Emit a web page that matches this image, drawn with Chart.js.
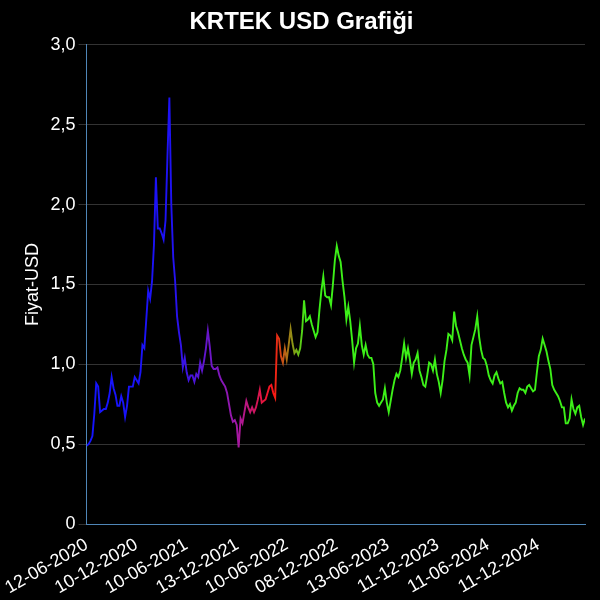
<!DOCTYPE html>
<html>
<head>
<meta charset="utf-8">
<title>KRTEK USD Grafiği</title>
<script src="https://cdn.jsdelivr.net/npm/chart.js@4.4.1/dist/chart.umd.min.js"></script>
<style>
    html, body { margin: 0; padding: 0; background: #000; }
    #kutu { width: 600px; height: 600px; }
</style>
</head>
<body>
<div id="kutu"><canvas id="grafikFiyat"></canvas></div>
<script>
// veriler: 12-06-2020 itibariyle haftalik kapanislar (USD)
const baslangic = '2020-06-12';
const adimGun = 7;
const fiyatlar = [
    0.49, 0.50, 0.52, 0.55, 0.69, 0.88, 0.86, 0.70,
    0.71, 0.72, 0.72, 0.76, 0.82, 0.92, 0.85, 0.81,
    0.74, 0.74, 0.80, 0.76, 0.67, 0.74, 0.86, 0.86,
    0.86, 0.92, 0.90, 0.88, 0.95, 1.12, 1.10, 1.28,
    1.46, 1.41, 1.52, 1.75, 2.17, 1.85, 1.85, 1.82,
    1.78, 1.90, 2.30, 2.67, 2.00, 1.67, 1.52, 1.30,
    1.20, 1.12, 0.98, 1.04, 0.95, 0.90, 0.93, 0.93,
    0.89, 0.94, 0.92, 1.01, 0.96, 1.02, 1.10, 1.21,
    1.11, 0.99, 0.97, 0.97, 0.98, 0.93, 0.90, 0.88,
    0.86, 0.82, 0.75, 0.68, 0.64, 0.65, 0.62, 0.48,
    0.66, 0.63, 0.70, 0.77, 0.73, 0.70, 0.73, 0.70,
    0.73, 0.78, 0.84, 0.76, 0.77, 0.78, 0.82, 0.86,
    0.87, 0.82, 0.79, 1.18, 1.16, 1.05, 1.01, 1.10,
    1.03, 1.12, 1.22, 1.13, 1.07, 1.09, 1.06, 1.10,
    1.21, 1.40, 1.27, 1.28, 1.30, 1.25, 1.21, 1.17,
    1.20, 1.34, 1.46, 1.55, 1.43, 1.42, 1.42, 1.37,
    1.50, 1.65, 1.74, 1.68, 1.64, 1.52, 1.42, 1.28,
    1.36, 1.27, 1.15, 1.01, 1.10, 1.13, 1.24, 1.12,
    1.06, 1.12, 1.06, 1.04, 1.04, 1.00, 0.82, 0.76,
    0.74, 0.76, 0.78, 0.85, 0.76, 0.70, 0.77, 0.84,
    0.90, 0.94, 0.92, 0.96, 1.04, 1.13, 1.04, 1.10,
    1.03, 0.94, 1.01, 1.03, 1.07, 0.96, 0.92, 0.87,
    0.86, 0.93, 1.01, 1.00, 0.96, 1.03, 0.94, 0.89,
    0.82, 0.90, 1.02, 1.09, 1.19, 1.18, 1.15, 1.33,
    1.24, 1.20, 1.15, 1.10, 1.06, 1.03, 1.01, 0.93,
    1.12, 1.17, 1.22, 1.30, 1.17, 1.09, 1.04, 1.03,
    0.99, 0.93, 0.90, 0.88, 0.93, 0.95, 0.91, 0.88,
    0.89, 0.82, 0.76, 0.73, 0.75, 0.71, 0.74, 0.76,
    0.82, 0.85, 0.84, 0.84, 0.82, 0.86, 0.87, 0.85,
    0.83, 0.84, 0.95, 1.05, 1.09, 1.16, 1.12, 1.08,
    1.02, 0.97, 0.87, 0.84, 0.82, 0.80, 0.77, 0.73,
    0.73, 0.63, 0.63, 0.66, 0.78, 0.72, 0.69, 0.73,
    0.74, 0.67, 0.62, 0.66
];
const eksenTarihleri = [
    '12-06-2020', '10-12-2020', '10-06-2021', '13-12-2021', '10-06-2022',
    '08-12-2022', '13-06-2023', '11-12-2023', '11-06-2024', '11-12-2024'
];

// tarih -> baslangictan itibaren gun
function gunFarki(tarih) {
    const p = tarih.split('-');
    const t = Date.UTC(+p[2], +p[1] - 1, +p[0]);
    const b = Date.parse(baslangic + 'T00:00:00Z');
    return Math.round((t - b) / 86400000);
}

const noktalar = fiyatlar.map(function (v, i) {
    return { x: i * adimGun, y: v };
});
const tikGunleri = eksenTarihleri.map(gunFarki);

let renkGecisi = null;
function cizgiRengi(context) {
    const chart = context.chart;
    const alan = chart.chartArea;
    if (!alan) return '#0000ff';
    if (!renkGecisi) {
        renkGecisi = chart.ctx.createLinearGradient(alan.left, 0, alan.right, 0);
        renkGecisi.addColorStop(0, '#1414ff');
        renkGecisi.addColorStop(0.17, '#1e12f4');
        renkGecisi.addColorStop(0.30, '#a018a8');
        renkGecisi.addColorStop(0.375, '#ff1414');
        renkGecisi.addColorStop(0.44, '#3cf018');
        renkGecisi.addColorStop(1, '#3cf018');
    }
    return renkGecisi;
}

Chart.defaults.font.family = '"Liberation Sans", Arial, sans-serif';
Chart.defaults.color = '#ffffff';

const ctx = document.getElementById('grafikFiyat');

new Chart(ctx, {
    type: 'line',
    data: {
        datasets: [{
            label: 'KRTEK',
            data: noktalar,
            borderColor: cizgiRengi,
            borderWidth: 1.9,
            pointRadius: 0,
            tension: 0,
            fill: false
        }]
    },
    options: {
        responsive: true,
        maintainAspectRatio: false,
        animation: false,
        locale: 'tr-TR',
        layout: {
            padding: { left: 18, right: 15 }
        },
        plugins: {
            legend: { display: false },
            tooltip: { enabled: false },
            title: {
                display: true,
                text: 'KRTEK USD Grafiği',
                color: '#ffffff',
                font: { size: 24, weight: 'bold' },
                padding: { top: 8, bottom: 8 }
            }
        },
        scales: {
            x: {
                type: 'linear',
                min: 0,
                max: (fiyatlar.length - 1) * adimGun,
                grid: { display: false },
                border: { color: '#4f86b8', width: 1 },
                afterBuildTicks: function (axis) {
                    axis.ticks = tikGunleri.map(function (g) { return { value: g }; });
                },
                afterFit: function (axis) {
                    axis.height = 76;
                },
                ticks: {
                    color: '#ffffff',
                    font: { size: 18 },
                    autoSkip: false,
                    minRotation: 30,
                    maxRotation: 30,
                    padding: 2,
                    callback: function (value) {
                        const i = tikGunleri.indexOf(value);
                        return i >= 0 ? eksenTarihleri[i] : '';
                    }
                }
            },
            y: {
                min: 0,
                max: 3,
                ticks: {
                    stepSize: 0.5,
                    color: '#ffffff',
                    font: { size: 18 }
                },
                grid: { color: '#333333' },
                border: { color: '#4f86b8', width: 1 },
                title: {
                    display: true,
                    text: 'Fiyat-USD',
                    color: '#ffffff',
                    font: { size: 18 }
                }
            }
        }
    }
});
</script>
</body>
</html>
